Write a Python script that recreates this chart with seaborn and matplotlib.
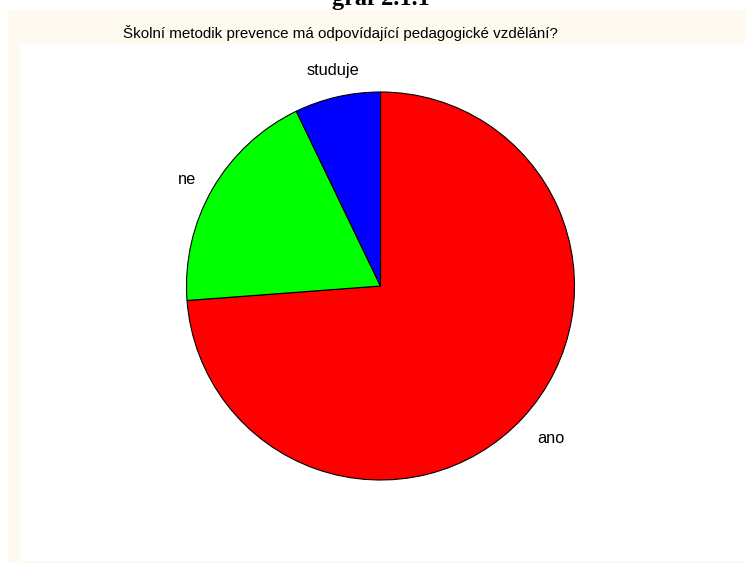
import matplotlib
matplotlib.use("Agg")
import matplotlib.pyplot as plt
from matplotlib.patches import Rectangle
import seaborn as sns

# ─────────────────────────────────────────────────────────────────────────────
# DATA
# ─────────────────────────────────────────────────────────────────────────────
labels = ["ano", "ne", "studuje"]
counts = [62, 16, 6]
colors = ["#FF0000", "#00FF00", "#0000FF"]

title = "graf 2.1.1"
subtitle = "Školní metodik prevence má odpovídající pedagogické vzdělání?"

# ─────────────────────────────────────────────────────────────────────────────
# STYLE
# ─────────────────────────────────────────────────────────────────────────────
sns.set_theme(style="white")
plt.rcParams["font.family"] = ["Liberation Sans", "DejaVu Sans"]
plt.rcParams["text.color"] = "black"

W, H = 745, 563
CREAM = "#FFFAF0"

fig = plt.figure(figsize=(W / 100, H / 100), dpi=100, facecolor="white")


def px_rect(x0, y0, x1, y1):
    # pixel box (top-left origin) -> figure fraction [l, b, w, h]
    return [x0 / W, 1 - y1 / H, (x1 - x0) / W, (y1 - y0) / H]


# cream panel + white plotting area
l, b, w, h = px_rect(8, 10, 745, 563)
fig.patches.append(Rectangle((l, b), w, h, transform=fig.transFigure,
                             facecolor=CREAM, edgecolor="none", zorder=-2))
l, b, w, h = px_rect(20, 44, 745, 561)
fig.patches.append(Rectangle((l, b), w, h, transform=fig.transFigure,
                             facecolor="white", edgecolor="none", zorder=-1))

# titles (the main title is cut at the top edge, as in the original)
fig.text(381 / W, 1 - 5 / H, title, ha="center", va="baseline",
         fontsize=17.5, fontweight="bold", family=["Liberation Serif", "DejaVu Serif"])
fig.text(340 / W, 1 - 33 / H, subtitle, ha="center", va="center", fontsize=10.9)

# ─────────────────────────────────────────────────────────────────────────────
# PIE
# ─────────────────────────────────────────────────────────────────────────────
cx, cy, r = 380.5, 286, 194
ax = fig.add_axes(px_rect(cx - r, cy - r, cx + r, cy + r))
ax.set_facecolor("none")
ax.set_zorder(2)

wedges, texts = ax.pie(
    counts, labels=labels, colors=colors, startangle=90, counterclock=False,
    labeldistance=1.1,
    wedgeprops=dict(edgecolor="black", linewidth=0.8),
    textprops=dict(fontsize=11.8, color="black"),
)
texts[0].set_va("top")
texts[2].set_va("bottom")
texts[2].set_ha("center")
ax.set_xlim(-1, 1)
ax.set_ylim(-1, 1)
ax.set_aspect("equal")
ax.axis("off")

fig.savefig("out.png", dpi=100, facecolor="white")
